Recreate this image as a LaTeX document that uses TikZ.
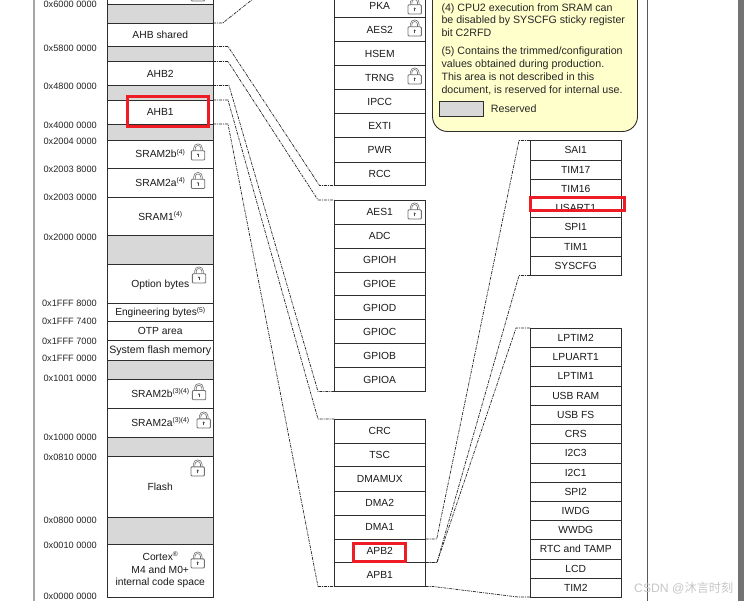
\documentclass[tikz,border=0pt]{standalone}
\usepackage{fontspec}
\setmainfont{Liberation Sans}
\newfontfamily\cjkwm{Noto Sans CJK SC}
\newcommand{\sx}[1]{\smash{\raisebox{3.6pt}{\fontsize{6.8}{7}\selectfont #1}}}
\newcommand{\capc}[1]{\vphantom{A}\smash{#1}}
\newcommand{\cellbox}[6]{% name, x0, x1, y0, y1, text
  \pgfmathsetlengthmacro{\cw}{#3-#2}\pgfmathsetlengthmacro{\ch}{#5-#4}%
  \node[cellstyle,minimum width=\cw,minimum height=\ch] (#1) at (#2,#4) {#6};}
\newcommand{\greybox}[5]{%
  \pgfmathsetlengthmacro{\cw}{#3-#2}\pgfmathsetlengthmacro{\ch}{#5-#4}%
  \node[cellstyle,fill=resgrey,minimum width=\cw,minimum height=\ch] (#1) at (#2,#4) {};}
\definecolor{resgrey}{HTML}{D8D8D8}
\definecolor{legendy}{HTML}{FFFFCC}
\definecolor{edge}{HTML}{2E2E2E}
\definecolor{lockc}{HTML}{707070}
\definecolor{redbox}{HTML}{EE1C25}
\tikzset{
  cellstyle/.style={draw=edge,line width=0.9pt,anchor=north west,inner sep=0pt,outer sep=0pt,
    align=center,font=\fontsize{10.3}{12.7}\selectfont,text=black!90},
  addr/.style={anchor=east,inner sep=0pt,font=\fontsize{9.2}{11}\selectfont,text=black!85},
  legendtext/.style={anchor=base west,inner sep=0pt,font=\fontsize{10.65}{12}\selectfont,text=black!85},
  linkline/.style={draw=black!85,line width=0.7pt,dash pattern=on 3pt off 1pt on 1pt off 1pt},
  mark red/.style={draw=redbox,line width=3pt},
  lockpic/.pic={
    \draw[lockc,line width=0.6pt,fill=white] (-4.4,-1) -- (-4.4,-3.6) .. controls (-4.4,-9.6) and (4.4,-9.6) .. (4.4,-3.6) -- (4.4,-1);
    \draw[lockc,line width=0.6pt] (-2.8,-1) -- (-2.8,-3.6) .. controls (-2.8,-7.4) and (2.8,-7.4) .. (2.8,-3.6) -- (2.8,-1);
    \draw[lockc,line width=0.9pt,fill=white,rounded corners=1pt] (-6.7,-1.2) rectangle (6.7,8);
    \draw[black!70,line width=0.7pt] (0,5.4) -- (0,2.2);
    \fill[black!70] (-1.2,3) -- (0,1.4) -- (1.2,3) -- cycle;
  }
}
\begin{document}
\begin{tikzpicture}[x=1pt,y=-1pt]
\useasboundingbox (0,0) rectangle (744,601);
\clip (0,0) rectangle (744,601);
\fill[white] (0,0) rectangle (744,601);
% page edge and frame
\fill[black!55] (738,0) rectangle (744,601);
\draw[black!35,line width=2pt] (34,0) -- (34,601);
\draw[black!65,line width=0.9pt] (647,0) -- (647,601);
% legend
\draw[draw=edge,line width=0.9pt,fill=legendy,rounded corners=15pt] (432.5,-40) rectangle (637.5,131.5);
\node[legendtext] (l1) at (441.3,11.3) {(4) CPU2 execution from SRAM can};
\node[legendtext] (l2) at (441.3,24) {be disabled by SYSCFG sticky register};
\node[legendtext] (l3) at (441.3,36.8) {bit C2RFD};
\node[legendtext] (l4) at (441.3,54.8) {(5) Contains the trimmed/configuration};
\node[legendtext] (l5) at (441.3,67.6) {values obtained during production.};
\node[legendtext] (l6) at (441.3,80.4) {This area is not described in this};
\node[legendtext] (l7) at (441.3,93.2) {document, is reserved for internal use.};
\greybox{lgrey}{439.7}{483.5}{101.5}{116.5}
\node[legendtext] (lres) at (490.7,113) {Reserved};
% left column
\def\xa{107.5}\def\xb{213}
\cellbox{topcell}{\xa}{\xb}{-30}{4.5}{}
\greybox{g1}{\xa}{\xb}{4.5}{23}
\cellbox{ahbs}{\xa}{\xb}{23}{46.5}{AHB shared}
\greybox{g2}{\xa}{\xb}{46.5}{61.5}
\cellbox{ahb2}{\xa}{\xb}{61.5}{85.5}{AHB2}
\greybox{g3}{\xa}{\xb}{85.5}{100}
\cellbox{ahb1}{\xa}{\xb}{100}{124}{AHB1}
\greybox{g4}{\xa}{\xb}{124}{140}
\cellbox{sramtb}{\xa}{\xb}{140}{168.5}{SRAM2b\sx{(4)}}
\cellbox{sramta}{\xa}{\xb}{168.5}{197.5}{SRAM2a\sx{(4)}}
\cellbox{sramo}{\xa}{\xb}{197.5}{235.5}{SRAM1\sx{(4)}}
\greybox{g5}{\xa}{\xb}{235.5}{264}
\cellbox{optb}{\xa}{\xb}{264}{303}{\capc{Option bytes}}
\cellbox{engb}{\xa}{\xb}{303}{321.5}{\capc{\fontsize{10.2}{12}\selectfont Engineering bytes\sx{(5)}}}
\cellbox{otp}{\xa}{\xb}{321.5}{340.5}{OTP area}
\cellbox{sysf}{\xa}{\xb}{340.5}{360}{\capc{\fontsize{10.6}{12}\selectfont System flash memory}}
\greybox{g6}{\xa}{\xb}{360}{379}
\cellbox{srambb}{\xa}{\xb}{379}{408}{SRAM2b\sx{(3)(4)}}
\cellbox{sramba}{\xa}{\xb}{408}{437}{SRAM2a\sx{(3)(4)}}
\greybox{g7}{\xa}{\xb}{437}{456.5}
\cellbox{flash}{\xa}{\xb}{456.5}{517}{Flash}
\greybox{g8}{\xa}{\xb}{517}{544}
\cellbox{cortex}{\xa}{\xb}{544}{597}{Cortex\sx{®}\\M4 and M0+\\internal code space}
% addresses
\node[addr] (a1) at (97,4.7) {0x6000 0000};
\node[addr] (a2) at (97,48) {0x5800 0000};
\node[addr] (a3) at (97,86) {0x4800 0000};
\node[addr] (a4) at (97,125.5) {0x4000 0000};
\node[addr] (a5) at (97,141.5) {0x2004 0000};
\node[addr] (a6) at (97,169) {0x2003 8000};
\node[addr] (a7) at (97,197) {0x2003 0000};
\node[addr] (a8) at (97,237.5) {0x2000 0000};
\node[addr] (a9) at (97,303) {0x1FFF 8000};
\node[addr] (a10) at (97,321) {0x1FFF 7400};
\node[addr] (a11) at (97,341) {0x1FFF 7000};
\node[addr] (a12) at (97,358.5) {0x1FFF 0000};
\node[addr] (a13) at (97,378.5) {0x1001 0000};
\node[addr] (a14) at (97,437) {0x1000 0000};
\node[addr] (a15) at (97,457) {0x0810 0000};
\node[addr] (a16) at (97,520.5) {0x0800 0000};
\node[addr] (a17) at (97,545.5) {0x0010 0000};
\node[addr] (a18) at (97,596.5) {0x0000 0000};
% middle column
\def\xc{334}\def\xd{425.5}
\cellbox{pka}{\xc}{\xd}{-6.5}{17.5}{PKA}
\cellbox{aesb}{\xc}{\xd}{17.5}{41.5}{AES2}
\cellbox{hsem}{\xc}{\xd}{41.5}{65.5}{HSEM}
\cellbox{trng}{\xc}{\xd}{65.5}{89.5}{TRNG}
\cellbox{ipcc}{\xc}{\xd}{89.5}{113.5}{IPCC}
\cellbox{exti}{\xc}{\xd}{113.5}{137.5}{EXTI}
\cellbox{pwr}{\xc}{\xd}{137.5}{162}{PWR}
\cellbox{rcc}{\xc}{\xd}{162}{185.5}{RCC}
\cellbox{aesa}{\xc}{\xd}{200}{224}{AES1}
\cellbox{adc}{\xc}{\xd}{224}{248}{ADC}
\cellbox{gpioh}{\xc}{\xd}{248}{272}{GPIOH}
\cellbox{gpioe}{\xc}{\xd}{272}{295.5}{GPIOE}
\cellbox{gpiod}{\xc}{\xd}{295.5}{319.5}{GPIOD}
\cellbox{gpioc}{\xc}{\xd}{319.5}{343.5}{GPIOC}
\cellbox{gpiob}{\xc}{\xd}{343.5}{367.5}{GPIOB}
\cellbox{gpioa}{\xc}{\xd}{367.5}{391.5}{GPIOA}
\cellbox{crc}{\xc}{\xd}{419}{443}{CRC}
\cellbox{tsc}{\xc}{\xd}{443}{466.5}{TSC}
\cellbox{dmamux}{\xc}{\xd}{466.5}{491}{DMAMUX}
\cellbox{dmab}{\xc}{\xd}{491}{515}{DMA2}
\cellbox{dmaa}{\xc}{\xd}{515}{539}{DMA1}
\cellbox{apbb}{\xc}{\xd}{539}{562.5}{APB2}
\cellbox{apba}{\xc}{\xd}{562.5}{586.5}{APB1}
% right columns
\def\xe{530}\def\xf{621.5}
\cellbox{sai}{\xe}{\xf}{140.5}{160}{SAI1}
\cellbox{timq}{\xe}{\xf}{160}{179}{TIM17}
\cellbox{timp}{\xe}{\xf}{179}{198}{TIM16}
\cellbox{usart}{\xe}{\xf}{198}{217.5}{USART1}
\cellbox{spia}{\xe}{\xf}{217.5}{237}{SPI1}
\cellbox{tima}{\xe}{\xf}{237}{256}{TIM1}
\cellbox{syscfg}{\xe}{\xf}{256}{275.5}{SYSCFG}
\cellbox{lptimb}{\xe}{\xf}{328}{347.5}{LPTIM2}
\cellbox{lpuart}{\xe}{\xf}{347.5}{366.5}{LPUART1}
\cellbox{lptima}{\xe}{\xf}{366.5}{386}{LPTIM1}
\cellbox{usbram}{\xe}{\xf}{386}{405.5}{USB RAM}
\cellbox{usbfs}{\xe}{\xf}{405.5}{424.5}{USB FS}
\cellbox{crs}{\xe}{\xf}{424.5}{443.5}{CRS}
\cellbox{ictc}{\xe}{\xf}{443.5}{463}{I2C3}
\cellbox{icta}{\xe}{\xf}{463}{482}{I2C1}
\cellbox{spib}{\xe}{\xf}{482}{501.5}{SPI2}
\cellbox{iwdg}{\xe}{\xf}{501.5}{520.5}{IWDG}
\cellbox{wwdg}{\xe}{\xf}{520.5}{539.5}{WWDG}
\cellbox{rtc}{\xe}{\xf}{539.5}{559}{RTC and TAMP}
\cellbox{lcd}{\xe}{\xf}{559}{578}{LCD}
\cellbox{timb}{\xe}{\xf}{578}{597}{TIM2}
% connectors
\coordinate (offtop) at (258,-5);
\draw[linkline] (ahbs.north east) -- (222.7,23) -- (offtop);
\draw[linkline] (ahbs.south east) -- (228,46.5) -- (319.5,185.5) -- (rcc.south west);
\draw[linkline] (ahb2.north east) -- (228,61.5) -- (318,200) -- (aesa.north west);
\draw[linkline] (ahb2.south east) -- (229,85.5) -- (318,391.5) -- (gpioa.south west);
\draw[linkline] (ahb1.north east) -- (228,100) -- (318,419) -- (crc.north west);
\draw[linkline] (ahb1.south east) -- (228,124) -- (318,586.5) -- (apba.south west);
\draw[linkline] (apbb.north east) -- (436.7,539) -- (519,140.5) -- (sai.north west);
\draw[linkline] (apbb.south east) -- (437,562.5) -- (519,275.5) -- (syscfg.south west);
\draw[linkline] (apbb.south east) -- (437,562.5) -- (516,328) -- (lptimb.north west);
\draw[linkline] (apba.south east) -- (433,586.5) -- (518,597) -- (timb.south west);
% locks
\pic at (198,-7) {lockpic};
\pic at (198,152) {lockpic};
\pic at (198,180.5) {lockpic};
\pic at (199,275) {lockpic};
\pic at (199,391.7) {lockpic};
\pic at (203.7,420) {lockpic};
\pic at (197.7,468) {lockpic};
\pic at (197.7,560) {lockpic};
\pic at (414.7,6) {lockpic};
\pic at (414.7,28) {lockpic};
\pic at (414.7,76) {lockpic};
\pic at (414.7,211) {lockpic};
% red highlights
\draw[mark red] (127,97) rectangle (208,127);
\draw[mark red] (530,198) rectangle (624.5,211);
\draw[mark red] (353.5,543) rectangle (405.5,561);
% watermark
\node[anchor=west,inner sep=0pt,text=black!22,font=\fontsize{12.2}{13}\selectfont] (wm) at (634,588) {CSDN @{\cjkwm 沐言时刻}};
\end{tikzpicture}
\end{document}
